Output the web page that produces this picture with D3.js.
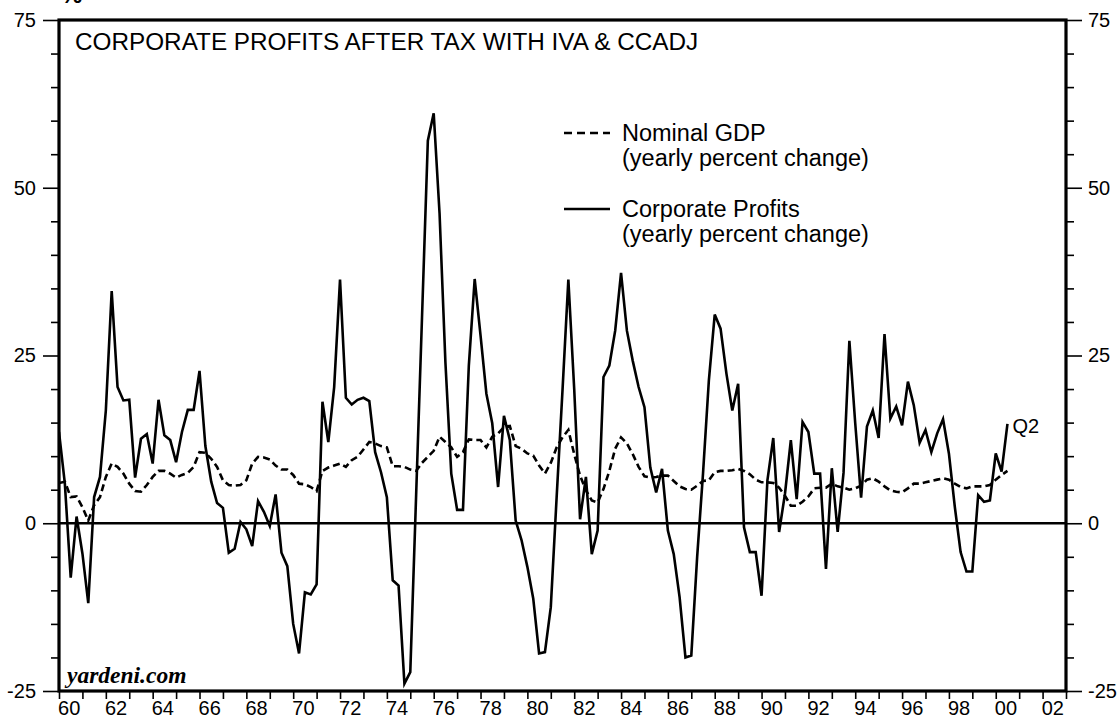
<!DOCTYPE html>
<html>
<head>
<meta charset="utf-8">
<script src="https://cdn.jsdelivr.net/npm/d3@7"></script>
<style>
    body { margin: 0; background: #fff; }
    svg text { font-family: "Liberation Sans", Arial, Helvetica, sans-serif; fill: #000; }
</style>
</head>
<body>
<div id="chart"></div>
<script>
const width = 1119;
const height = 719;

// quarterly yoy % changes, first obs is 1959 Q4 (plotted at quarter end), last is 2000 Q2
const firstQuarterEnd = 1960;

const profits = [
    13.6, 5.9, -8.1, 1.0, -4.5, -11.9, 3.9, 6.9, 16.8, 34.6,
    20.3, 18.3, 18.4, 6.8, 12.6, 13.3, 8.9, 18.4, 13.1, 12.4,
    9.1, 13.6, 16.9, 16.9, 22.7, 11.5, 6.2, 3.0, 2.3, -4.4,
    -3.8, 0.2, -0.9, -3.4, 3.3, 1.7, -0.4, 4.3, -4.4, -6.4,
    -15.0, -19.4, -10.3, -10.6, -9.1, 18.1, 12.1, 20.3, 36.3, 18.7,
    17.7, 18.4, 18.7, 18.2, 10.6, 7.6, 3.9, -8.5, -9.3, -23.9,
    -22.2, 4.2, 30.6, 57.0, 61.1, 46.2, 24.0, 7.4, 2.0, 2.0,
    23.5, 36.4, 28.0, 19.3, 14.9, 5.4, 16.0, 12.4, 0.4, -2.5,
    -6.5, -11.2, -19.4, -19.2, -12.5, 3.9, 19.8, 36.3, 20.0, 0.6,
    6.9, -4.6, -1.1, 21.8, 23.5, 28.7, 37.3, 28.7, 24.2, 20.3,
    17.3, 8.3, 4.6, 8.1, -1.1, -4.6, -11.0, -20.0, -19.7, -5.0,
    7.4, 21.3, 31.1, 29.0, 22.3, 16.8, 20.8, -0.6, -4.3, -4.3,
    -10.8, 6.4, 12.7, -1.3, 4.4, 12.4, 3.6, 15.1, 13.6, 7.4,
    7.4, -6.8, 8.2, -1.3, 7.5, 27.2, 14.9, 3.8, 14.4, 16.8,
    12.7, 28.2, 15.6, 17.4, 14.6, 21.1, 17.6, 12.0, 13.9, 10.6,
    13.4, 15.5, 10.4, 2.5, -4.3, -7.2, -7.2, 4.2, 3.2, 3.4,
    10.4, 7.7, 14.8
];

const nominalGdp = [
    6.0, 6.2, 3.9, 4.0, 2.4, 0.4, 2.7, 3.9, 6.9, 8.9,
    8.4, 7.4, 5.9, 4.8, 4.7, 5.7, 6.9, 7.8, 7.8, 7.4,
    6.8, 7.2, 7.5, 8.4, 10.6, 10.5, 9.6, 8.4, 6.4, 5.7,
    5.6, 5.7, 6.4, 8.9, 9.9, 9.8, 9.5, 8.6, 8.0, 8.0,
    7.2, 5.9, 5.8, 5.4, 4.8, 7.8, 8.3, 8.6, 8.9, 8.4,
    9.4, 9.9, 11.0, 12.1, 11.9, 11.5, 11.3, 8.5, 8.5, 8.4,
    8.0, 7.8, 9.0, 9.9, 10.8, 12.9, 12.1, 11.3, 9.9, 10.6,
    12.5, 12.4, 12.4, 11.3, 12.9, 13.4, 14.3, 14.5, 11.5, 11.1,
    10.4, 10.1, 8.6, 7.4, 9.0, 11.3, 12.8, 13.9, 10.3, 7.1,
    4.9, 3.4, 3.1, 5.1, 7.8, 11.1, 12.8, 11.9, 10.3, 8.4,
    7.0, 6.8, 6.9, 7.1, 7.1, 6.3, 5.5, 5.1, 5.0, 5.6,
    6.3, 6.4, 7.6, 7.8, 7.8, 7.9, 8.1, 7.8, 7.3, 6.5,
    6.1, 6.1, 6.0, 5.3, 4.1, 2.6, 2.6, 3.2, 4.0, 5.2,
    5.3, 5.3, 5.9, 5.5, 5.3, 5.0, 5.2, 5.6, 6.5, 6.7,
    6.2, 5.5, 4.9, 4.7, 4.6, 5.2, 5.9, 5.9, 6.1, 6.3,
    6.5, 6.7, 6.5, 5.9, 5.4, 5.2, 5.5, 5.5, 5.5, 5.7,
    6.5, 7.2, 7.8
];

const yearTicks = d3.range(1960, 2004);
const yearLabels = d3.range(1960, 2003, 2);
const valueTicks = [-25, 0, 25, 50, 75];
const minorTicks = d3.range(-25, 76, 5).filter(v => !valueTicks.includes(v));
const legendNames = [
    ["Nominal GDP", "(yearly percent change)"],
    ["Corporate Profits", "(yearly percent change)"]
];
const title = "CORPORATE PROFITS AFTER TAX WITH IVA & CCADJ";

const plot = { left: 59, right: 1066, top: 20, bottom: 691 };

const x = d3.scaleLinear().domain([1960, 2003]).range([plot.left, plot.right]);
const y = d3.scaleLinear().domain([-25, 75]).range([plot.bottom, plot.top]);

const svg = d3.select("#chart").append("svg")
    .attr("width", width)
    .attr("height", height);

svg.append("clipPath").attr("id", "clip")
    .append("rect")
    .attr("x", plot.left).attr("y", plot.top)
    .attr("width", plot.right - plot.left).attr("height", plot.bottom - plot.top);

//  AXES  ///////////////////////////////////////////////////////

const fmt = d => d;
const styleAxis = g => {
    g.select(".domain").remove();
    g.selectAll("line").attr("stroke", "#000").attr("stroke-width", 1.6);
    g.selectAll("text").attr("font-size", 20).attr("fill", "#000")
        .style("font-family", '"Liberation Sans", Arial, sans-serif');
};

svg.append("g")
    .attr("transform", `translate(${plot.left},0)`)
    .call(d3.axisLeft(y).tickValues(minorTicks).tickSize(8).tickFormat(""))
    .call(styleAxis);
svg.append("g")
    .attr("transform", `translate(${plot.left},0)`)
    .call(d3.axisLeft(y).tickValues(valueTicks).tickSize(16).tickPadding(7).tickFormat(fmt))
    .call(styleAxis);

svg.append("g")
    .attr("transform", `translate(${plot.right},0)`)
    .call(d3.axisRight(y).tickValues(minorTicks).tickSize(8).tickFormat(""))
    .call(styleAxis);
svg.append("g")
    .attr("transform", `translate(${plot.right},0)`)
    .call(d3.axisRight(y).tickValues(valueTicks).tickSize(16).tickPadding(6).tickFormat(fmt))
    .call(styleAxis);

svg.append("g")
    .attr("transform", `translate(0,${plot.bottom})`)
    .call(d3.axisBottom(x).tickValues(yearTicks).tickSize(8).tickFormat(""))
    .call(styleAxis);

svg.append("g").selectAll("text")
    .data(yearLabels)
    .join("text")
    .attr("x", d => x(d + 0.5) - 1.5)
    .attr("y", 715)
    .attr("text-anchor", "middle")
    .attr("font-size", 20)
    .text(d => String(d % 100).padStart(2, "0"));

//  SERIES  /////////////////////////////////////////////////////

const lineHelper = d3.line()
    .x((d, i) => x(firstQuarterEnd + i / 4))
    .y(d => y(d));

const series = svg.append("g").attr("clip-path", "url(#clip)");

series.append("line")
    .attr("x1", plot.left).attr("x2", plot.right)
    .attr("y1", y(0)).attr("y2", y(0))
    .attr("stroke", "#000").attr("stroke-width", 2.5);

series.append("path")
    .datum(nominalGdp)
    .attr("d", lineHelper)
    .attr("fill", "none")
    .attr("stroke", "#000")
    .attr("stroke-width", 2.6)
    .attr("stroke-dasharray", "7,4");

series.append("path")
    .datum(profits)
    .attr("d", lineHelper)
    .attr("fill", "none")
    .attr("stroke", "#000")
    .attr("stroke-width", 2.6)
    .attr("stroke-linejoin", "miter");

// frame
svg.append("rect")
    .attr("x", plot.left).attr("y", plot.top)
    .attr("width", plot.right - plot.left).attr("height", plot.bottom - plot.top)
    .attr("fill", "none")
    .attr("stroke", "#000")
    .attr("stroke-width", 3.2);

//  TEXT  ///////////////////////////////////////////////////////

svg.append("text")
    .attr("x", 61).attr("y", 3)
    .attr("font-size", 24).attr("font-weight", "bold")
    .text("%");

svg.append("text")
    .attr("x", 75).attr("y", 50)
    .attr("font-size", 24.3)
    .text(title);

const legend = svg.append("g").attr("transform", "translate(564,0)");
legendNames.forEach((lines, i) => {
    const ly = i === 0 ? 133 : 209;
    legend.append("line")
        .attr("x1", 0).attr("x2", 46)
        .attr("y1", ly).attr("y2", ly)
        .attr("stroke", "#000")
        .attr("stroke-width", 2.6)
        .attr("stroke-dasharray", i === 0 ? "8,5" : null);
    lines.forEach((t, j) => {
        legend.append("text")
            .attr("x", 58)
            .attr("y", ly + 8 + j * 25)
            .attr("font-size", 23.5)
            .text(t);
    });
});

svg.append("text")
    .attr("x", x(firstQuarterEnd + (profits.length - 1) / 4) + 5)
    .attr("y", 433)
    .attr("font-size", 20)
    .text("Q2");

svg.append("text")
    .attr("x", 67).attr("y", 683)
    .attr("font-size", 23.5)
    .attr("font-weight", "bold")
    .attr("font-style", "italic")
    .style("font-family", '"Liberation Serif", "Times New Roman", serif')
    .text("yardeni.com");
</script>
</body>
</html>
